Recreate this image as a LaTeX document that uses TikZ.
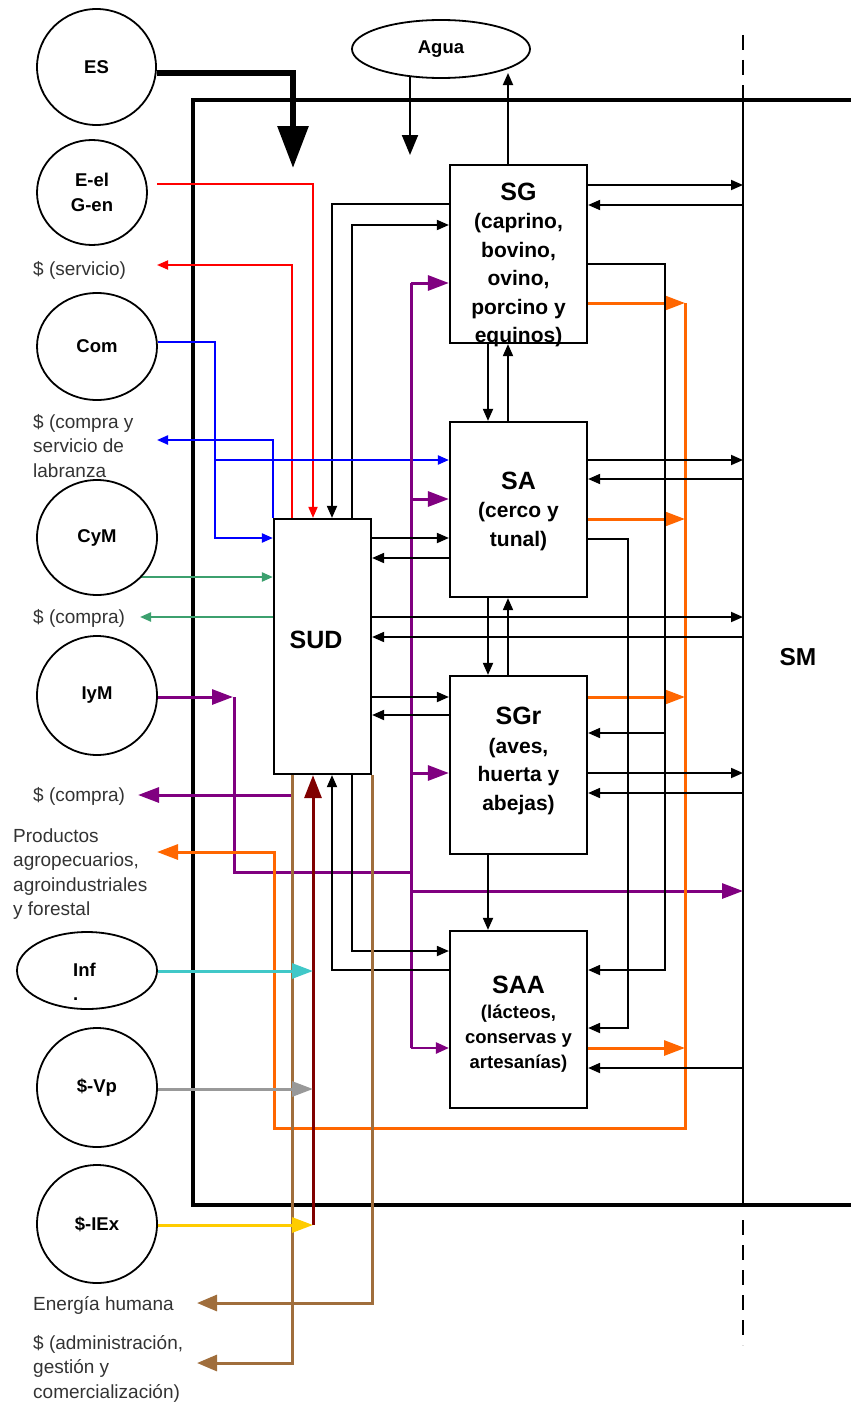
\documentclass[tikz,border=0pt]{standalone}
\usepackage{fontspec}
\setmainfont{Liberation Sans}
\usetikzlibrary{arrows.meta,shapes.geometric}
\pgfdeclarelayer{bg}
\pgfsetlayers{bg,main}
\definecolor{cred}{RGB}{255,0,0}
\definecolor{cblue}{RGB}{0,0,255}
\definecolor{cgreen}{RGB}{60,160,110}
\definecolor{cpurple}{RGB}{128,0,128}
\definecolor{corange}{RGB}{255,102,0}
\definecolor{ccyan}{RGB}{64,200,200}
\definecolor{cgray}{RGB}{153,153,153}
\definecolor{cyellow}{RGB}{255,204,0}
\definecolor{cmaroon}{RGB}{128,0,0}
\definecolor{cbrown}{RGB}{160,110,60}
\definecolor{lblgray}{RGB}{51,51,51}
\tikzset{
  circ/.style={ellipse, draw, line width=1.8, fill=white, inner sep=0pt, align=center, font=\bfseries\fontsize{18.5}{25}\selectfont},
  sbox/.style={rectangle, draw, line width=2.2, fill=white, inner sep=0pt, minimum width=137},
  btitle/.style={align=center, inner sep=0pt, font=\bfseries\fontsize{21}{28.5}\selectfont},
  lbl/.style={align=left, inner sep=0pt, text=lblgray, font=\fontsize{19}{24.5}\selectfont},
  blk/.style={draw=black, line width=1.8, -{Triangle[length=12pt,width=10pt]}},
  thn/.style={line width=1.8, -{Triangle[length=11pt,width=9pt]}},
  thk/.style={line width=3, -{Triangle[length=21pt,width=15pt]}},
  brw/.style={line width=3, draw=cbrown, -{Triangle[length=20pt,width=16pt]}},
}
\begin{document}
\begin{tikzpicture}[x=1pt,y=-1pt]
\useasboundingbox (0,0) rectangle (851,1405);

% ---------- nodes ----------
\node[circ, minimum width=119, minimum height=116] (ES) at (96.5,67) {ES};
\node[circ, minimum width=110, minimum height=105] (EG) at (92,192.5) {E-el\\G-en};
\node[circ, minimum width=120, minimum height=107] (Com) at (97,346.5) {Com};
\node[circ, minimum width=120, minimum height=115] (CyM) at (97,537.5) {CyM};
\node[circ, minimum width=120, minimum height=119] (IyM) at (97,695.5) {IyM};
\node[circ, minimum width=140, minimum height=77] (Inf) at (87,970.5) {};
\node[align=left, inner sep=0pt, anchor=north west, font=\bfseries\fontsize{18.5}{24}\selectfont] (Inft) at (73,963) {Inf\\.};
\node[circ, minimum width=120, minimum height=119] (Vp) at (97,1087.5) {\$-Vp};
\node[circ, minimum width=120, minimum height=118] (IEx) at (97,1224) {\$-IEx};
\node[circ, minimum width=178, minimum height=58] (Agua) at (441,49) {Agua};

\node[sbox, minimum height=178] (SG) at (518.5,254) {};
\node[sbox, minimum height=175] (SA) at (518.5,509.5) {};
\node[sbox, minimum height=178] (SGr) at (518.5,765) {};
\node[sbox, minimum height=177] (SAA) at (518.5,1019.5) {};
\node[sbox, minimum width=97, minimum height=255] (SUD) at (322.5,646.5) {};

\node[btitle] (SGt) at (518.5,265) {{\fontsize{25}{29}\selectfont SG}\\(caprino,\\bovino,\\ovino,\\porcino y\\equinos)};
\node[btitle] (SAt) at (518.5,511) {{\fontsize{25}{29}\selectfont SA}\\(cerco y\\tunal)};
\node[btitle] (SGrt) at (518.5,761) {{\fontsize{25}{29}\selectfont SGr}\\(aves,\\huerta y\\abejas)};
\node[btitle, font=\bfseries\fontsize{18.5}{25}\selectfont] (SAAt) at (518.5,1024) {{\fontsize{25}{29}\selectfont SAA}\\(lácteos,\\conservas y\\artesanías)};
\node[font=\bfseries\fontsize{25}{29}\selectfont, inner sep=0pt] (SUDt) at (316,640) {SUD};
\node[font=\bfseries\fontsize{24.5}{29}\selectfont, inner sep=0pt] (SM) at (798,657) {SM};

\node[lbl, anchor=base west] (Lserv) at (33,275.5) {\$ (servicio)};
\node[lbl, anchor=north west] (Lcomp) at (33,414) {\$ (compra y\\servicio de\\labranza};
\node[lbl, anchor=base west] (Lcg) at (33,623.5) {\$ (compra)};
\node[lbl, anchor=base west] (Lcp) at (33,801) {\$ (compra)};
\node[lbl, anchor=north west] (Lprod) at (13,828.5) {Productos\\agropecuarios,\\agroindustriales\\y forestal};
\node[lbl, anchor=base west] (Lener) at (33,1310) {Energía humana};
\node[lbl, anchor=north west] (Ladm) at (33,1335) {\$ (administración,\\gestión y\\comercialización)};

\coordinate (SMx) at (743,0);
\coordinate (ESend) at (293,168);

% ---------- connectors ----------
\begin{pgfonlayer}{bg}
% frame and SM line
\draw[line width=3.5] (851,100) -- (193,100) -- (193,1205) -- (851,1205);
\draw[line width=2, dash pattern=on 15pt off 10pt] (743,35) -- (743,100);
\draw[line width=2] (743,100) -- (743,1205);
\draw[line width=2, dash pattern=on 15pt off 10pt] (743,1220) -- (743,1345);

% ES and Agua
\draw[line width=6, -{Triangle[length=42pt,width=30pt]}] (ES.east |- 0,73) -| (ESend);
\draw[line width=2, -{Triangle[length=20pt,width=16pt]}] (410,76) -- (410,155);
\draw[blk] (SG.north -| 508,0) -- (508,73);

% red
\draw[thn, draw=cred] (157,184) -| (SUD.north -| 313,0);
\draw[thn, draw=cred] (SUD.north -| 292,0) |- (157,265);

% black SUD top
\draw[blk] (SG.west |- 0,204) -| (SUD.north -| 332,0);
\draw[blk] (SUD.north -| 352,0) |- (SG.west |- 0,225);

% blue
\draw[thn, draw=cblue, line width=2.2] (Com.east |- 0,342) -| (215,538) -- (SUD.west |- 0,538);
\draw[thn, draw=cblue, line width=2.2] (215,460) -- (SA.west |- 0,460);
\draw[thn, draw=cblue, line width=2.2] (SUD.north west) |- (157,440);

% green
\draw[thn, draw=cgreen, line width=2.2] (137,577) -- (SUD.west |- 0,577);
\draw[thn, draw=cgreen, line width=2.2] (SUD.west |- 0,617) -- (140,617);

% purple
\draw[thk, draw=cpurple] (IyM.east |- 0,697) -- (233,697);
\draw[line width=3, draw=cpurple] (234,697) |- (411,872);
\draw[line width=3, draw=cpurple] (411,283) -- (411,1048);
\draw[thk, draw=cpurple] (411,283) -- (SG.west |- 0,283);
\draw[thk, draw=cpurple] (411,499) -- (SA.west |- 0,499);
\draw[thk, draw=cpurple] (411,773) -- (SGr.west |- 0,773);
\draw[line width=2.5, draw=cpurple, -{Triangle[length=13pt,width=11pt]}] (411,1048) -- (SAA.west |- 0,1048);
\draw[thk, draw=cpurple] (411,891) -- (SMx |- 0,891);
\draw[thk, draw=cpurple] (292,795) -- (138,795);

% orange
\draw[thk, draw=corange] (SG.east |- 0,303) -- (685,303);
\draw[thk, draw=corange] (SA.east |- 0,519) -- (685,519);
\draw[thk, draw=corange] (SGr.east |- 0,697) -- (685,697);
\draw[thk, draw=corange] (SAA.east |- 0,1048) -- (685,1048);
\draw[thk, draw=corange] (685,303) |- (274,1128) |- (157,852);

% black SUD right
\draw[blk] (SUD.east |- 0,538) -- (SA.west |- 0,538);
\draw[blk] (SA.west |- 0,558) -- (SUD.east |- 0,558);
\draw[blk] (SUD.east |- 0,617) -- (SMx |- 0,617);
\draw[blk] (SMx |- 0,637) -- (SUD.east |- 0,637);
\draw[blk] (SUD.east |- 0,697) -- (SGr.west |- 0,697);
\draw[blk] (SGr.west |- 0,715) -- (SUD.east |- 0,715);

% SUD bottom
\draw[brw] (SUD.south -| 292,0) |- (197,1363);
\draw[line width=3, draw=cmaroon, -{Triangle[length=23pt,width=17pt]}] (313,1225) -- (SUD.south -| 313,0);
\draw[blk] (SAA.west |- 0,970) -| (SUD.south -| 332,0);
\draw[blk] (SUD.south -| 352,0) |- (SAA.west |- 0,951);
\draw[brw] (SUD.south east) |- (197,1303);

% cyan, gray, yellow
\draw[thk, draw=ccyan] (Inf.east |- 0,971) -- (313,971);
\draw[thk, draw=cgray] (Vp.east |- 0,1089) -- (313,1089);
\draw[thk, draw=cyellow] (IEx.east |- 0,1225) -- (313,1225);

% box to box
\draw[blk] (SG.south -| 488,0) -- (SA.north -| 488,0);
\draw[blk] (SA.north -| 508,0) -- (SG.south -| 508,0);
\draw[blk] (SA.south -| 488,0) -- (SGr.north -| 488,0);
\draw[blk] (SGr.north -| 508,0) -- (SA.south -| 508,0);
\draw[blk] (SGr.south -| 488,0) -- (SAA.north -| 488,0);

% boxes to SM
\draw[blk] (SG.east |- 0,185) -- (SMx |- 0,185);
\draw[blk] (SMx |- 0,205) -- (SG.east |- 0,205);
\draw[blk] (SA.east |- 0,460) -- (SMx |- 0,460);
\draw[blk] (SMx |- 0,479) -- (SA.east |- 0,479);
\draw[blk] (SGr.east |- 0,773) -- (SMx |- 0,773);
\draw[blk] (SMx |- 0,793) -- (SGr.east |- 0,793);
\draw[blk] (SMx |- 0,1068) -- (SAA.east |- 0,1068);

% right verticals
\draw[blk] (SG.east |- 0,264) -| (665,970) -- (SAA.east |- 0,970);
\draw[blk] (665,733) -- (SGr.east |- 0,733);
\draw[blk] (SA.east |- 0,539) -| (628,1028) -- (SAA.east |- 0,1028);
\end{pgfonlayer}
\end{tikzpicture}
\end{document}
